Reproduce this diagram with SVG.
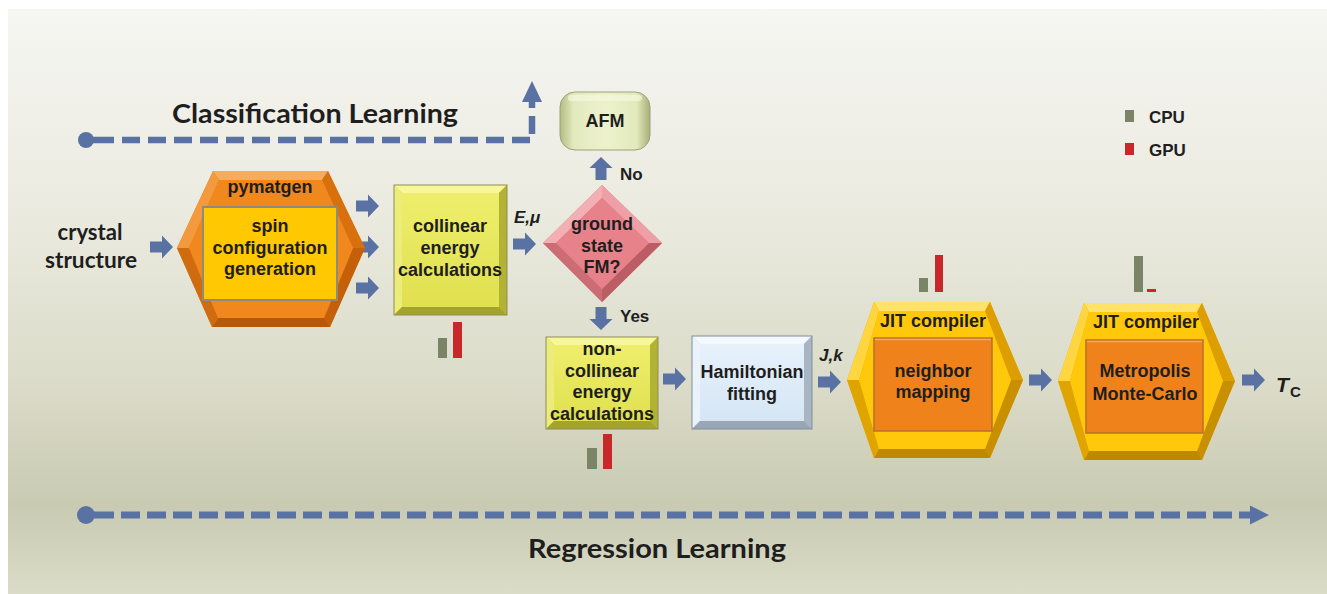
<svg xmlns="http://www.w3.org/2000/svg" width="1327" height="594" viewBox="0 0 1327 594">
<defs>
<linearGradient id="bg" x1="0" y1="0" x2="0" y2="1">
<stop offset="0" stop-color="#f6f6f2"/>
<stop offset="0.33" stop-color="#ebebe1"/>
<stop offset="0.63" stop-color="#dcdcca"/>
<stop offset="0.85" stop-color="#c9cab2"/>
<stop offset="1" stop-color="#dadcc7"/>
</linearGradient>
<linearGradient id="afm" x1="0" y1="0" x2="1" y2="0">
<stop offset="0" stop-color="#b4bc84"/>
<stop offset="0.15" stop-color="#e2e9bd"/>
<stop offset="0.5" stop-color="#edf2cd"/>
<stop offset="0.85" stop-color="#e2e9bd"/>
<stop offset="1" stop-color="#a8b078"/>
</linearGradient>
<linearGradient id="yface" x1="0" y1="0" x2="0" y2="1">
<stop offset="0" stop-color="#eeee6c"/>
<stop offset="1" stop-color="#e0e050"/>
</linearGradient>
<linearGradient id="bface" x1="0" y1="0" x2="0" y2="1">
<stop offset="0" stop-color="#e6f1fb"/>
<stop offset="1" stop-color="#d6e6f5"/>
</linearGradient>
<path id="arr" d="M0,-5.5 H12 V-11.5 L23,0 L12,11.5 V5.5 H0 Z"/>
</defs>
<style>
.t{font-family:"Liberation Sans",Arial,sans-serif;font-weight:bold;fill:#1e1e1e;text-anchor:middle;font-size:18px}
.ti{font-family:"Liberation Sans",Arial,sans-serif;font-weight:bold;font-style:italic;fill:#1e1e1e;font-size:17px}
.tl{font-family:"Liberation Sans",Arial,sans-serif;font-weight:bold;fill:#1e1e1e;font-size:17px}
.cal{font-family:Lato,"Open Sans",sans-serif;font-weight:bold;fill:#1e1e1e}
.arrow{fill:#5a72a3}
.dash{fill:none;stroke:#5a72a3;stroke-width:6.5}
.cpu{fill:#7a8466}
.gpu{fill:#c8282a}
.edge{fill:none;stroke-width:1}
</style>
<rect x="0" y="0" width="1327" height="594" fill="#ffffff"/>
<rect x="8" y="9" width="1319" height="585" fill="url(#bg)"/>

<g id="connectors">
<circle cx="86" cy="140" r="8" class="arrow"/>
<path class="dash" d="M86,140 H96"/>
<path class="dash" d="M96,140 H532 V101" stroke-dasharray="18 8"/>
<polygon class="arrow" points="522,102 542,102 532,81"/>
<circle cx="86" cy="515" r="9" class="arrow"/>
<path class="dash" d="M86,515 H95" style="stroke-width:7"/>
<path class="dash" d="M95,515 H1251" stroke-dasharray="19 7" style="stroke-width:7"/>
<polygon class="arrow" points="1250,505.5 1269,515 1250,524.5"/>
<use href="#arr" class="arrow" transform="translate(150,247)"/>
<use href="#arr" class="arrow" transform="translate(356,206)"/>
<use href="#arr" class="arrow" transform="translate(356,247)"/>
<use href="#arr" class="arrow" transform="translate(356,288)"/>
<use href="#arr" class="arrow" transform="translate(513,244)"/>
<use href="#arr" class="arrow" transform="translate(601,180) rotate(-90)"/>
<use href="#arr" class="arrow" transform="translate(601,307) rotate(90)"/>
<use href="#arr" class="arrow" transform="translate(663,379)"/>
<use href="#arr" class="arrow" transform="translate(818,382)"/>
<use href="#arr" class="arrow" transform="translate(1029,380)"/>
<use href="#arr" class="arrow" transform="translate(1242,380)"/>
<text class="ti" x="514" y="223">E,μ</text>
<text class="ti" x="819" y="361">J,k</text>
<text class="tl" x="620" y="180">No</text>
<text class="tl" x="620" y="322">Yes</text>
</g>

<text class="cal" x="172" y="123" font-size="26" textLength="286" lengthAdjust="spacingAndGlyphs">Classification Learning</text>
<text class="cal" x="528" y="558" font-size="27" textLength="258" lengthAdjust="spacingAndGlyphs">Regression Learning</text>

<g id="crystal">
<text class="cal" x="90" y="240" font-size="23" text-anchor="middle" textLength="65" lengthAdjust="spacingAndGlyphs">crystal</text>
<text class="cal" x="91" y="268" font-size="23" text-anchor="middle" textLength="92" lengthAdjust="spacingAndGlyphs">structure</text>
</g>

<g id="pymatgen">
<polygon points="177,248 213,171 328,171 365,248 330,327 212,327" fill="#e07a14"/>
<polygon points="213,171 328,171 322,180 219,180" fill="#f7ac5c"/>
<polygon points="177,248 213,171 219,180 189,248" fill="#f39a3e"/>
<polygon points="328,171 365,248 353,248 322,180" fill="#d8700e"/>
<polygon points="365,248 330,327 324,318 353,248" fill="#c4600a"/>
<polygon points="330,327 212,327 218,318 324,318" fill="#b85808"/>
<polygon points="212,327 177,248 189,248 218,318" fill="#d06c10"/>
<polygon points="189,248 219,180 322,180 353,248 324,318 218,318" fill="#f0881e"/>
<rect x="203" y="207" width="134" height="93" fill="#ffc800" stroke="#8c8c7c" stroke-width="2"/>
<text class="t" x="270" y="193">pymatgen</text>
<text class="t" x="270" y="232">spin</text>
<text class="t" x="270" y="254">configuration</text>
<text class="t" x="270" y="275">generation</text>
</g>

<g id="collinear">
<rect x="394" y="185" width="113" height="130" fill="#c8c840"/>
<polygon points="394,185 507,185 499,193 402,193" fill="#f6f69a"/>
<polygon points="394,185 402,193 402,307 394,315" fill="#ecec7a"/>
<polygon points="507,185 499,193 499,307 507,315" fill="#b2b234"/>
<polygon points="394,315 507,315 499,307 402,307" fill="#a4a42c"/>
<rect x="402" y="193" width="97" height="114" fill="url(#yface)"/>
<rect x="394" y="185" width="113" height="130" class="edge" stroke="#8e8e52"/>
<text class="t" x="450" y="232">collinear</text>
<text class="t" x="450" y="254">energy</text>
<text class="t" x="450" y="276">calculations</text>
</g>

<g id="groundstate">
<polygon points="602,185 662,243 602,302 543,243" fill="#d87078"/>
<polygon points="602,185 662,243 649,243 602,198" fill="#eea0a6"/>
<polygon points="602,185 602,198 556,243 543,243" fill="#f2b0b5"/>
<polygon points="662,243 602,302 602,289 649,243" fill="#bc5c64"/>
<polygon points="543,243 556,243 602,289 602,302" fill="#cc6c74"/>
<polygon points="602,198 649,243 602,289 556,243" fill="#e8828a"/>
<text class="t" x="602" y="230">ground</text>
<text class="t" x="602" y="252">state</text>
<text class="t" x="602" y="273">FM?</text>
</g>

<g id="afm">
<rect x="560" y="92" width="90" height="58" rx="15" fill="url(#afm)" stroke="#9aa27a" stroke-width="1"/>
<rect x="568" y="95" width="74" height="6" rx="3" fill="#f4f8dc" opacity="0.7"/>
<text class="t" x="605" y="127">AFM</text>
</g>

<g id="noncollinear">
<rect x="546" y="337" width="112" height="92" fill="#c8c840"/>
<polygon points="546,337 658,337 650,345 554,345" fill="#f6f69a"/>
<polygon points="546,337 554,345 554,421 546,429" fill="#ecec7a"/>
<polygon points="658,337 650,345 650,421 658,429" fill="#b2b234"/>
<polygon points="546,429 658,429 650,421 554,421" fill="#a4a42c"/>
<rect x="554" y="345" width="96" height="76" fill="url(#yface)"/>
<rect x="546" y="337" width="112" height="92" class="edge" stroke="#8e8e52"/>
<text class="t" x="602" y="355">non-</text>
<text class="t" x="602" y="377">collinear</text>
<text class="t" x="602" y="398">energy</text>
<text class="t" x="602" y="420">calculations</text>
</g>

<g id="hamiltonian">
<rect x="692" y="336" width="120" height="93" fill="#b8c6d4"/>
<polygon points="692,336 812,336 804,344 700,344" fill="#f4f9fe"/>
<polygon points="692,336 700,344 700,421 692,429" fill="#eaf3fb"/>
<polygon points="812,336 804,344 804,421 812,429" fill="#a8b6c4"/>
<polygon points="692,429 812,429 804,421 700,421" fill="#98a6b6"/>
<rect x="700" y="344" width="104" height="77" fill="url(#bface)"/>
<rect x="692" y="336" width="120" height="93" class="edge" stroke="#808e9c"/>
<text class="t" x="752" y="378">Hamiltonian</text>
<text class="t" x="752" y="400">fitting</text>
</g>

<g id="neighbor">
<polygon points="847,380 874,302 990,302 1023,380 990,458 874,458" fill="#e8aa00"/>
<polygon points="874,302 990,302 985,311 879,311" fill="#ffe26a"/>
<polygon points="847,380 874,302 879,311 859,380" fill="#ffd640"/>
<polygon points="990,302 1023,380 1011,380 985,311" fill="#dc9e00"/>
<polygon points="1023,380 990,458 985,449 1011,380" fill="#c89000"/>
<polygon points="990,458 874,458 879,449 985,449" fill="#c08800"/>
<polygon points="874,458 847,380 859,380 879,449" fill="#e0a400"/>
<polygon points="859,380 879,311 985,311 1011,380 985,449 879,449" fill="#ffc80a"/>
<rect x="874" y="338" width="118" height="93" fill="#f0821c" stroke="#b8702c" stroke-width="1.5"/>
<line x1="875" y1="339.5" x2="991" y2="339.5" stroke="#f6a860" stroke-width="1.5"/>
<text class="t" x="933" y="327">JIT compiler</text>
<text class="t" x="933" y="377">neighbor</text>
<text class="t" x="933" y="398">mapping</text>
</g>

<g id="metropolis">
<polygon points="1058,381 1084,303 1202,303 1235,381 1202,460 1084,460" fill="#e8aa00"/>
<polygon points="1084,303 1202,303 1197,312 1089,312" fill="#ffe26a"/>
<polygon points="1058,381 1084,303 1089,312 1070,381" fill="#ffd640"/>
<polygon points="1202,303 1235,381 1223,381 1197,312" fill="#dc9e00"/>
<polygon points="1235,381 1202,460 1197,451 1223,381" fill="#c89000"/>
<polygon points="1202,460 1084,460 1089,451 1197,451" fill="#c08800"/>
<polygon points="1084,460 1058,381 1070,381 1089,451" fill="#e0a400"/>
<polygon points="1070,381 1089,312 1197,312 1223,381 1197,451 1089,451" fill="#ffc80a"/>
<rect x="1086" y="340" width="117" height="93" fill="#f0821c" stroke="#b8702c" stroke-width="1.5"/>
<line x1="1087" y1="341.5" x2="1202" y2="341.5" stroke="#f6a860" stroke-width="1.5"/>
<text class="t" x="1146" y="328">JIT compiler</text>
<text class="t" x="1145" y="377">Metropolis</text>
<text class="t" x="1145" y="400">Monte-Carlo</text>
</g>

<g id="tc">
<text class="ti" x="1276" y="392" style="font-size:21px">T</text>
<text class="tl" x="1290" y="397" style="font-size:15px">C</text>
</g>

<g id="bars">
<rect class="cpu" x="438" y="338" width="9" height="20"/>
<rect class="gpu" x="453" y="322" width="9" height="36"/>
<rect class="cpu" x="587" y="448" width="10" height="21"/>
<rect class="gpu" x="603" y="434" width="9" height="35"/>
<rect class="cpu" x="919" y="278" width="9" height="14"/>
<rect class="gpu" x="935" y="255" width="8" height="37"/>
<rect class="cpu" x="1134" y="256" width="9" height="36"/>
<rect class="gpu" x="1147" y="289" width="9" height="3"/>
</g>

<g id="legend">
<rect class="cpu" x="1125" y="110" width="9" height="12"/>
<text class="tl" x="1149" y="123">CPU</text>
<rect class="gpu" x="1125" y="143" width="9" height="12"/>
<text class="tl" x="1149" y="156">GPU</text>
</g>
</svg>
